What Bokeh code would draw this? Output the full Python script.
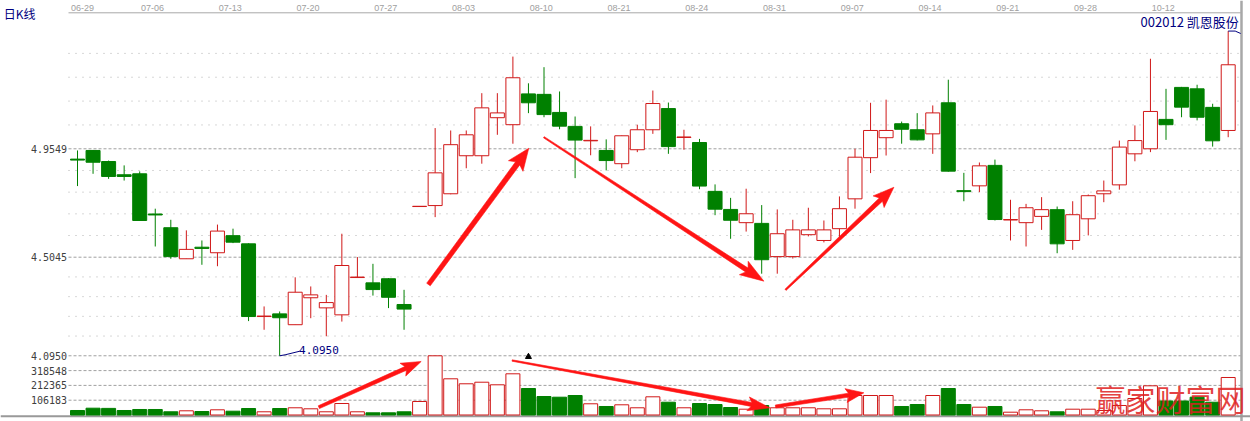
import math
from bokeh.plotting import figure
from bokeh.models import ColumnDataSource, Range1d, Label
from bokeh.core.properties import value
from bokeh.embed import file_html
from bokeh.resources import INLINE

# ---------------- data ----------------
tick_idx = list(range(0, 75, 5))
tick_labels = ["06-29", "07-06", "07-13", "07-20", "07-27", "08-03", "08-10", "08-21",
               "08-24", "08-31", "09-07", "09-14", "09-21", "09-28", "10-12"]

price_levels = [4.0950, 4.5045, 4.9549, 5.4504]
price_tick_labels = ["4.0950", "4.5045", "4.9549"]
vol_ticks = [106183, 212365, 318548]
vol_tick_labels = ["106183", "212365", "318548"]

opens = [4.912, 4.948, 4.902, 4.847, 4.851, 4.684, 4.627, 4.498, 4.546, 4.523,
         4.594, 4.560, 4.258, 4.269, 4.224, 4.336, 4.294, 4.265, 4.420, 4.398,
         4.415, 4.308, 4.715, 4.719, 4.768, 4.926, 4.926, 5.084, 5.055, 5.183,
         5.181, 5.106, 5.048, 4.988, 4.948, 4.893, 4.951, 5.034, 5.122, 5.002,
         4.981, 4.778, 4.703, 4.648, 4.645, 4.507, 4.507, 4.598, 4.574, 4.623,
         4.747, 4.918, 5.001, 5.059, 5.034, 5.017, 5.146, 4.781, 4.801, 4.886,
         4.659, 4.648, 4.674, 4.702, 4.574, 4.664, 4.768, 4.805, 4.934, 4.955,
         5.077, 5.210, 5.204, 5.127, 5.031]
closes = [4.908, 4.899, 4.840, 4.840, 4.657, 4.680, 4.507, 4.537, 4.541, 4.613,
          4.567, 4.258, 4.260, 4.253, 4.359, 4.348, 4.316, 4.470, 4.422, 4.370,
          4.338, 4.289, 4.716, 4.855, 4.972, 5.013, 5.125, 5.104, 5.250, 5.146,
          5.097, 5.049, 4.991, 4.990, 4.906, 5.009, 5.034, 5.143, 4.964, 5.004,
          4.800, 4.704, 4.658, 4.685, 4.494, 4.602, 4.618, 4.618, 4.618, 4.706,
          4.920, 5.031, 5.031, 5.036, 4.992, 5.104, 4.862, 4.777, 4.884, 4.661,
          4.661, 4.710, 4.702, 4.560, 4.681, 4.760, 4.780, 4.962, 4.989, 5.110,
          5.055, 5.128, 5.086, 4.988, 5.304]
highs = [4.948, 4.950, 4.906, 4.886, 4.861, 4.706, 4.660, 4.616, 4.574, 4.640,
         4.623, 4.562, 4.300, 4.279, 4.421, 4.383, 4.348, 4.602, 4.505, 4.477,
         4.417, 4.369, 4.716, 5.041, 5.031, 5.031, 5.186, 5.186, 5.338, 5.227,
         5.294, 5.193, 5.089, 5.048, 4.994, 5.010, 5.055, 5.197, 5.147, 5.034,
         4.996, 4.807, 4.751, 4.789, 4.721, 4.703, 4.660, 4.710, 4.657, 4.757,
         4.955, 5.146, 5.159, 5.068, 5.103, 5.135, 5.242, 4.855, 4.898, 4.910,
         4.743, 4.726, 4.754, 4.715, 4.737, 4.765, 4.823, 4.989, 5.052, 5.329,
         5.204, 5.212, 5.221, 5.142, 5.444]
lows = [4.800, 4.851, 4.830, 4.823, 4.655, 4.549, 4.498, 4.498, 4.473, 4.467,
        4.563, 4.239, 4.203, 4.095, 4.224, 4.251, 4.176, 4.237, 4.418, 4.345,
        4.293, 4.203, 4.715, 4.671, 4.766, 4.874, 4.893, 5.013, 4.976, 5.103,
        5.086, 5.036, 4.833, 4.928, 4.865, 4.874, 4.941, 5.017, 4.934, 4.951,
        4.787, 4.679, 4.581, 4.611, 4.436, 4.436, 4.499, 4.591, 4.566, 4.577,
        4.706, 4.854, 4.927, 4.976, 4.990, 4.934, 4.860, 4.737, 4.775, 4.657,
        4.574, 4.549, 4.618, 4.521, 4.535, 4.595, 4.733, 4.785, 4.903, 4.941,
        4.992, 5.086, 5.073, 4.964, 5.003]
volumes = [32300, 48800, 47500, 32300, 39500, 39500, 23000, 30100, 25100, 37300,
           27300, 46600, 23000, 46600, 51700, 44500, 23000, 82500, 23000, 15800,
           15800, 23000, 96900, 424700, 259700, 223900, 235300, 216700, 295600, 190100,
           132700, 127700, 139900, 80400, 61000, 73200, 51700, 130600, 91800, 51700,
           82500, 75300, 53800, 41600, 68200, 51700, 51700, 51700, 44500, 44500,
           139900, 139900, 139900, 61000, 75300, 139900, 190100, 75300, 56000, 61000,
           20100, 37300, 30100, 23000, 41600, 41600, 32300, 68200, 118400, 209500,
           100500, 100500, 127700, 91800, 269100]

# arrow annotations: (x index, value) tail -> tip, half widths / head sizes in px
price_arrows = [((22.57, 4.391), (29.02, 4.957), 2.2, 2.6, 22, 9),
                ((29.99, 5.003), (44.14, 4.405), 0.7, 2.3, 24, 8),
                ((45.53, 4.369), (52.50, 4.795), 0.8, 2.3, 21, 8)]
volume_arrows = [((15.52, 56000), (22.10, 383900), 1.5, 2.0, 20, 7),
                 ((27.95, 391000), (44.52, 51700), 0.7, 2.0, 22, 7),
                 ((44.89, 61000), (50.57, 159300), 1.5, 2.0, 18, 7)]
marker_idx = [29]

# ---------------- layout ----------------
GREEN = "#008000"
RED = "#d01818"
NAVY = "#000080"
W, H = 1250, 421
XR = (-4.952, 75.434)
YR = (3.8219, 5.5710)
VR = (-46638, 2974038)
XL, XRT = -0.579, 74.855          # plot area left / right edge (index units)
sx = W / (XR[1] - XR[0])
sy = H / (YR[1] - YR[0])
vs = H / (VR[1] - VR[0])

n = len(opens)
idx = list(range(n))
up = [c >= o for o, c in zip(opens, closes)]
src = ColumnDataSource(dict(
    x=idx, h=highs, l=lows, v=volumes,
    top=[max(o, c) for o, c in zip(opens, closes)],
    bot=[min(o, c) for o, c in zip(opens, closes)],
    col=[RED if u else GREEN for u in up],
    fill=["white" if u else GREEN for u in up],
))

p = figure(width=W, height=H, x_range=Range1d(*XR), y_range=Range1d(*YR),
           x_axis_type=None, y_axis_type=None, output_backend="svg",
           toolbar_location=None, min_border=0, outline_line_color=None,
           background_fill_color="white", border_fill_color="white")
p.extra_y_ranges = {"vol": Range1d(*VR)}
p.grid.visible = False

# ---- grid lines ----
minor = []
for a, b in zip(price_levels[:-1], price_levels[1:]):
    for k in range(1, 5):
        minor.append(a + (b - a) * k / 5)
p.segment(x0=[XL] * len(minor), y0=minor, x1=[XRT] * len(minor), y1=minor,
          line_color="#b0b0b0", line_width=1, line_dash="1 6")
maj = price_levels[:3]
p.segment(x0=[XL] * 3, y0=maj, x1=[XRT] * 3, y1=maj,
          line_color="#a0a0a0", line_width=1, line_dash="3 2")
p.segment(x0=[XL] * 3, y0=vol_ticks, x1=[XRT] * 3, y1=vol_ticks, y_range_name="vol",
          line_color="#a0a0a0", line_width=1, line_dash="3 2")

# ---- frame lines ----
top_y = YR[1] - 12.3 / sy
p.segment(x0=[XL], y0=[top_y], x1=[XRT], y1=[top_y], line_color="#a8a8a8", line_width=1)
p.segment(x0=[XRT], y0=[YR[0]], x1=[XRT], y1=[YR[1]], line_color="#a8a8a8", line_width=2.5)
bot_v = -1.3 / vs
p.segment(x0=[XR[0]], y0=[bot_v], x1=[XR[1]], y1=[bot_v], y_range_name="vol",
          line_color="#999999", line_width=2)

# ---- axis labels ----
lab_x = [t - 0.17 for t in tick_idx]
lab_x[0] = max(lab_x[0], XL + 14.0 / sx)
p.text(x=lab_x, y=[YR[1] - 7.5 / sy] * len(lab_x), text=tick_labels,
       text_font=value("Liberation Sans"), text_font_size=value("9px"),
       text_color="#a0a0a0", text_align="center", text_baseline="middle")
lx = XL - 1.5 / sx
p.text(x=[lx] * 3, y=maj, text=price_tick_labels, text_font=value("DejaVu Sans Mono"),
       text_font_size=value("10px"), text_color="#404040", text_align="right",
       text_baseline="middle")
p.text(x=[lx] * 3, y=vol_ticks, text=vol_tick_labels, y_range_name="vol",
       text_font=value("DejaVu Sans Mono"), text_font_size=value("10px"),
       text_color="#404040", text_align="right", text_baseline="middle")

# ---- candles ----
p.segment(x0="x", y0="l", x1="x", y1="h", line_color="col", line_width=1, source=src)
p.vbar(x="x", width=0.9, top="top", bottom="bot", fill_color="fill", line_color="col",
       line_width=1, source=src)
# ---- volume ----
p.vbar(x="x", width=0.9, top="v", bottom=0, y_range_name="vol", fill_color="fill",
       line_color="col", line_width=1, source=src)


# ---- arrows (tapered polygons built in pixel space) ----
def vol_to_price(v):
    return YR[0] + (v - VR[0]) / (VR[1] - VR[0]) * (YR[1] - YR[0])


def arrow_poly(t, h, w0, w1, hl, hw):
    tx, ty = t[0] * sx, t[1] * sy
    hx, hy = h[0] * sx, h[1] * sy
    dx, dy = hx - tx, hy - ty
    L = math.hypot(dx, dy)
    ux, uy = dx / L, dy / L
    nx, ny = -uy, ux
    bx, by = hx - ux * hl, hy - uy * hl
    cx, cy = hx - ux * hl * 0.85, hy - uy * hl * 0.85
    pts = [(tx + nx * w0, ty + ny * w0), (cx + nx * w1, cy + ny * w1),
           (bx + nx * hw, by + ny * hw), (hx, hy),
           (bx - nx * hw, by - ny * hw), (cx - nx * w1, cy - ny * w1),
           (tx - nx * w0, ty - ny * w0)]
    return [q[0] / sx for q in pts], [q[1] / sy for q in pts]


axs, ays = [], []
for t, h, w0, w1, hl, hw in price_arrows:
    a, b = arrow_poly(t, h, w0, w1, hl, hw)
    axs.append(a); ays.append(b)
for t, h, w0, w1, hl, hw in volume_arrows:
    a, b = arrow_poly((t[0], vol_to_price(t[1])), (h[0], vol_to_price(h[1])), w0, w1, hl, hw)
    axs.append(a); ays.append(b)
p.patches(axs, ays, fill_color="#ff1414", line_color="#ff1414", line_width=0.6)

# small marker
p.scatter([marker_idx[0]], [418000], y_range_name="vol", marker="triangle", size=6,
          fill_color="black", line_color="black")

# low marker
li = min(range(n), key=lambda i: lows[i])
p.line([li, li + 0.35, li + 1.3], [lows[li], lows[li] + 0.004, lows[li] + 0.019],
       line_color=NAVY, line_width=1)
p.add_layout(Label(x=li + 1.25, y=lows[li] + 0.026, text=price_tick_labels[0],
                   text_font="DejaVu Sans Mono", text_font_size="11px", text_color=NAVY,
                   text_baseline="middle", text_align="left"))
# high marker
hi = max(range(n), key=lambda i: highs[i])
p.line([hi, hi + 0.45, hi + 0.8], [highs[hi], highs[hi], highs[hi] - 0.01],
       line_color=NAVY, line_width=1)

# ---- texts ----
p.add_layout(Label(x=74.68, y=YR[1] - 20.8 / sy, text="002012 凯恩股份",
                   text_font="Noto Sans CJK SC", text_font_size="13px", text_color=NAVY,
                   text_align="right", text_baseline="middle"))
p.add_layout(Label(x=XR[0] + 3.3 / sx, y=YR[1] - 12.5 / sy, text="日K线",
                   text_font="Noto Sans CJK SC", text_font_size="12px", text_color=NAVY,
                   text_align="left", text_baseline="middle"))
p.add_layout(Label(x=65.47, y=118400, y_range_name="vol", text="赢家财富网",
                   text_font="Noto Sans CJK SC", text_font_size="30px", text_color="#e02020",
                   text_alpha=0.85, text_align="left", text_baseline="middle"))

open("out.html", "w").write(file_html(p, INLINE))
